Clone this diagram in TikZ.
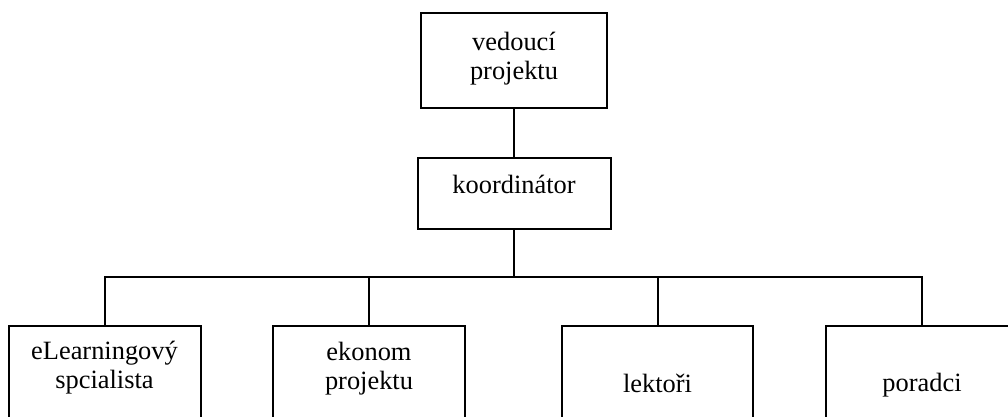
\documentclass[tikz,border=0pt]{standalone}
\usepackage{fontspec}
\setmainfont{Liberation Serif}
\begin{document}
\begin{tikzpicture}[x=0.5pt,y=-0.5pt,
  box/.style={draw=black,line width=1pt,inner sep=0pt,outer sep=0pt,fill=none},
  lbl/.style={inner sep=0pt,outer sep=0pt,align=center,font=\fontsize{13.2pt}{14.5pt}\selectfont},
  conn/.style={draw=black,line width=1pt}]
\useasboundingbox (0,0) rectangle (1008,417);
\clip (0,0) rectangle (1008,417);
% boxes
\node[box,minimum width=93pt,minimum height=47.5pt] (top) at (514,60.5) {};
\node[box,minimum width=96.5pt,minimum height=35.5pt] (mid) at (514,193.5) {};
\node[box,minimum width=96pt,minimum height=70pt] (b1) at (105,396) {};
\node[box,minimum width=96pt,minimum height=70pt] (b2) at (369,396) {};
\node[box,minimum width=95.5pt,minimum height=70pt] (b3) at (657.5,396) {};
\node[box,minimum width=96pt,minimum height=70pt] (b4) at (922,396) {};
% texts
\node[lbl] (ttop) at (514,59) {vedoucí\\projektu};
\node[lbl,anchor=base] (tmid) at (514,193.5) {koordinátor};
\node[lbl] (tb1) at (104.5,368) {eLearningový\\spcialista};
\node[lbl] (tb2) at (369,368.5) {ekonom\\projektu};
\node[lbl,anchor=base] (tb3) at (657.5,392) {lektoři};
\node[lbl,anchor=base] (tb4) at (922,391.5) {poradci};
% connectors
\coordinate (j) at (514,277);
\draw[conn] (top.south) -- (mid.north);
\draw[conn] (mid.south) -- (j);
\draw[conn] (b1.north) |- (j) -| (b4.north);
\draw[conn] (b2.north) -- (b2.north |- j);
\draw[conn] (b3.north) -- (b3.north |- j);
\end{tikzpicture}
\end{document}
